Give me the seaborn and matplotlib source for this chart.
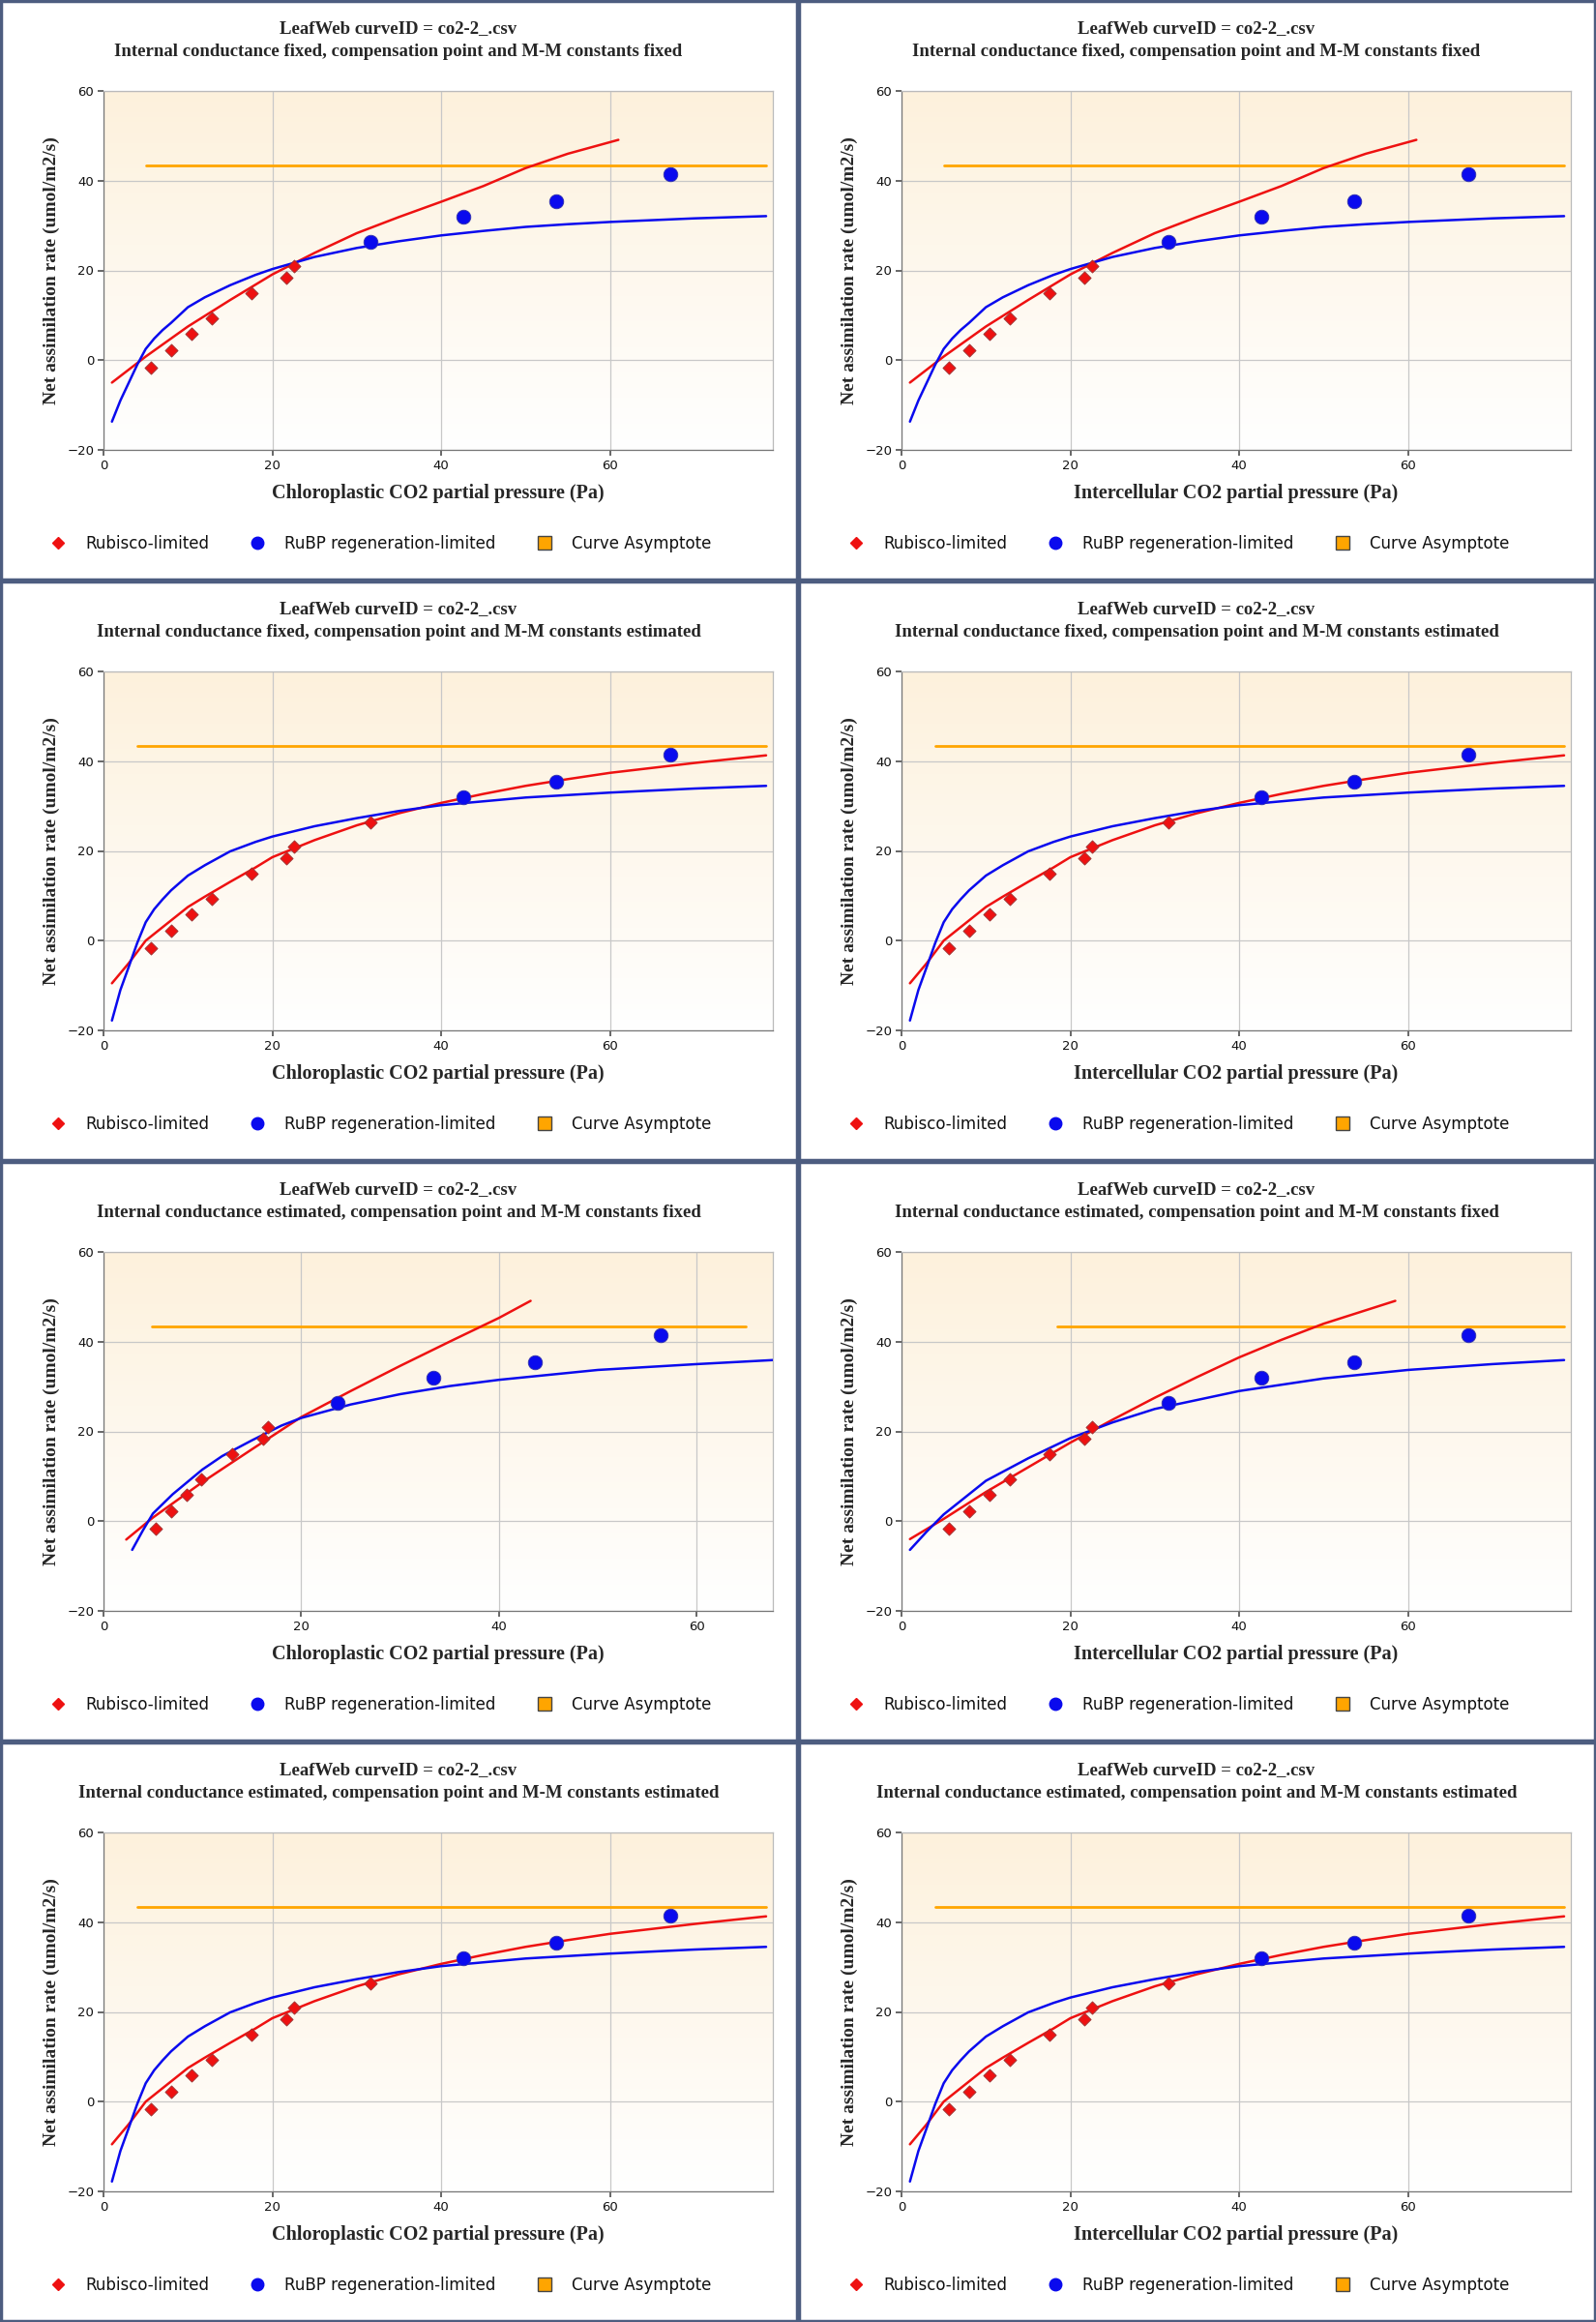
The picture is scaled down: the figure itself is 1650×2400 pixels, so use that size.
import numpy as np
import pandas as pd
import matplotlib
matplotlib.use("Agg")
import matplotlib.pyplot as plt
import seaborn as sns
from matplotlib.lines import Line2D
from matplotlib.patches import Rectangle
from matplotlib.colors import LinearSegmentedColormap

sns.set_theme(style="white")
plt.rcParams['font.family'] = ['DejaVu Sans']

# ---------------- data ----------------
rub_y = [-1.7, 2.3, 5.9, 9.4, 15.0, 18.3, 20.9, 26.4]
rubp_y = [26.4, 32.0, 35.5, 41.4]

ci_x = [5.6, 8.0, 10.4, 12.8, 17.5, 21.7, 22.6, 31.6, 42.6, 53.6, 67.1]
cc_est_x = [5.3, 6.8, 8.4, 9.9, 13.0, 16.1, 16.6, 23.7, 33.4, 43.6, 56.4]

# model A: gi fixed, constants fixed
A_red_x = [1, 5, 10, 15, 20, 25, 30, 35, 40, 45, 50, 55, 61]
A_red_y = [-5.0, 0.8, 7.5, 13.4, 19.1, 23.9, 28.3, 31.9, 35.3, 38.8, 42.8, 46.0, 49.1]
A_blue_x = [1, 2, 3, 4, 5, 6, 7, 8, 10, 12, 15, 18, 20, 25, 30, 35, 40, 45, 50, 55, 60, 70, 78.5]
A_blue_y = [-13.7, -9.0, -5.0, -1.0, 2.5, 4.8, 6.7, 8.3, 11.8, 14.0, 16.7, 19.0, 20.3, 23.0,
            25.0, 26.5, 27.8, 28.8, 29.7, 30.3, 30.8, 31.6, 32.1]
A_asym = (5.0, 78.5, 43.5)
A_nrub = 7

# model B: constants estimated
B_red_x = [1, 3, 5, 7, 10, 12, 15, 18, 20, 25, 30, 35, 40, 45, 50, 55, 60, 70, 78.5]
B_red_y = [-9.5, -5.0, 0.0, 3.0, 7.5, 9.8, 13.1, 16.3, 18.6, 22.4, 25.7, 28.4, 30.7, 32.7,
           34.5, 36.0, 37.4, 39.6, 41.3]
B_blue_x = [1, 2, 3, 4, 5, 6, 7, 8, 10, 12, 15, 18, 20, 25, 30, 35, 40, 50, 60, 70, 78.5]
B_blue_y = [-17.8, -11.0, -5.8, -0.5, 4.1, 7.0, 9.2, 11.2, 14.5, 16.8, 19.9, 22.0, 23.2, 25.5,
            27.3, 28.9, 30.2, 31.9, 33.0, 33.9, 34.5]
B_asym = (4.0, 78.5, 43.5)
B_nrub = 8

# model C: gi estimated, constants fixed (chloroplastic axis)
C_red_x = [2.3, 5, 10, 15, 20, 25, 30, 35, 40, 43.2]
C_red_y = [-4.1, 0.8, 8.7, 16.0, 23.2, 29.0, 34.6, 40.0, 45.3, 49.1]
C_blue_x = [2.9, 4, 5, 7, 10, 12, 15, 18, 20, 25, 30, 35, 40, 50, 60, 67.7]
C_blue_y = [-6.4, -2.0, 1.7, 6.0, 11.5, 14.5, 18.0, 21.3, 23.0, 26.0, 28.3, 30.1, 31.5, 33.7,
            35.0, 35.9]
C_asym = (4.9, 65.0, 43.5)
C_nrub = 7

# model C on the intercellular axis
Ci_red_x = [1, 5, 10, 15, 20, 25, 30, 35, 40, 45, 50, 58.5]
Ci_red_y = [-4.0, 0.5, 6.5, 12.0, 17.5, 22.6, 27.5, 32.1, 36.5, 40.4, 44.0, 49.1]
Ci_blue_x = [1, 3, 5, 10, 15, 20, 25, 30, 40, 50, 60, 70, 78.5]
Ci_blue_y = [-6.4, -2.3, 1.5, 9.0, 14.0, 18.5, 22.0, 25.0, 29.0, 31.8, 33.7, 35.0, 35.9]
Ci_asym = (18.5, 78.5, 43.5)

titles2 = [
    "Internal conductance fixed, compensation point and M-M constants fixed",
    "Internal conductance fixed, compensation point and M-M constants estimated",
    "Internal conductance estimated, compensation point and M-M constants fixed",
    "Internal conductance estimated, compensation point and M-M constants estimated",
]
xlabels = ["Chloroplastic CO2 partial pressure (Pa)", "Intercellular CO2 partial pressure (Pa)"]
legend_labels = ["Rubisco-limited", "RuBP regeneration-limited", "Curve Asymptote"]

RED = "#ee1111"
BLUE = "#0a0aee"
ORANGE = "#ffa500"

A = (ci_x, (A_red_x, A_red_y), (A_blue_x, A_blue_y), A_asym, A_nrub, 79.3)
B = (ci_x, (B_red_x, B_red_y), (B_blue_x, B_blue_y), B_asym, B_nrub, 79.3)
C = (cc_est_x, (C_red_x, C_red_y), (C_blue_x, C_blue_y), C_asym, C_nrub, 67.7)
Ci = (ci_x, (Ci_red_x, Ci_red_y), (Ci_blue_x, Ci_blue_y), Ci_asym, C_nrub, 79.3)
panels = [[A, A], [B, B], [C, Ci], [B, B]]

fig = plt.figure(figsize=(16.5, 24), dpi=100)
W, H = 1650, 2400

grad = np.linspace(0, 1, 256).reshape(-1, 1)
bgcmap = LinearSegmentedColormap.from_list("bg", ["#fdf1dc", "#ffffff"])

for r in range(4):
    for c in range(2):
        spec = panels[r][c]
        px0, py0 = c * 825, r * 600
        fig.patches.append(Rectangle((px0 / W + 0.0008, 1 - (py0 + 600) / H + 0.0006),
                                     823 / W, 598 / H, transform=fig.transFigure,
                                     fill=False, edgecolor="#4d5d80", linewidth=2.5))
        ax = fig.add_axes([(px0 + 107) / W, 1 - (py0 + 465) / H, 692 / W, 371 / H])
        ax.imshow(grad, extent=[0, 1, 0, 1], transform=ax.transAxes, cmap=bgcmap,
                  aspect="auto", zorder=0)
        xs, red, blue, asym, nrub, xmax = spec
        ax.set_xlim(0, xmax)
        ax.set_ylim(-20, 60)
        ax.set_xticks([0, 20, 40, 60])
        ax.set_yticks([-20, 0, 20, 40, 60])
        ax.grid(True, color="#c8c8c8", linewidth=0.9, zorder=1)
        ax.set_axisbelow(True)
        for s in ax.spines.values():
            s.set_color("#bbbbbb")
            s.set_linewidth(0.9)
        ax.spines["left"].set_color("#777777")
        ax.spines["bottom"].set_color("#777777")
        ax.tick_params(axis="both", labelsize=9.5, length=4, color="#555555",
                       left=True, bottom=True, pad=3, labelcolor="#111111")
        for t in ax.get_xticklabels() + ax.get_yticklabels():
            t.set_fontfamily("DejaVu Sans Condensed")

        sns.lineplot(x=[asym[0], asym[1]], y=[asym[2], asym[2]], ax=ax, color=ORANGE,
                     linewidth=2, zorder=3)
        sns.lineplot(x=red[0], y=red[1], ax=ax, color=RED, linewidth=1.8, zorder=4)
        sns.lineplot(x=blue[0], y=blue[1], ax=ax, color=BLUE, linewidth=1.8, zorder=4)
        sns.scatterplot(x=xs[:nrub], y=rub_y[:nrub], ax=ax, marker="D", color=RED, s=45,
                        edgecolor="#993333", linewidth=0.6, zorder=5)
        allY = rub_y[:7] + rubp_y
        sns.scatterplot(x=xs[nrub:], y=allY[nrub:], ax=ax, marker="o", color=BLUE, s=110,
                        edgecolor="#3333aa", linewidth=0.6, zorder=5)

        ax.set_xlabel(xlabels[c], fontsize=14.5, fontweight="bold",
                      family="Liberation Serif", labelpad=9)
        ax.set_ylabel("Net assimilation rate (umol/m2/s)", fontsize=14, fontweight="bold",
                      family="Liberation Serif", labelpad=5)

        cx = (px0 + 412) / W
        fig.text(cx, 1 - (py0 + 30) / H, "LeafWeb curveID = co2-2_.csv", ha="center",
                 va="center", fontsize=13.5, fontweight="bold", family="Liberation Serif")
        fig.text(cx, 1 - (py0 + 53) / H, titles2[r], ha="center", va="center",
                 fontsize=13.5, fontweight="bold", family="Liberation Serif")

        handles = [
            Line2D([], [], marker="D", color=RED, linestyle="none", markersize=6),
            Line2D([], [], marker="o", color=BLUE, linestyle="none", markersize=9),
            Line2D([], [], marker="s", color=ORANGE, markeredgecolor="#444444",
                   linestyle="none", markersize=10),
        ]
        fig.legend(handles, legend_labels, loc="center left", ncol=3, frameon=False,
                   bbox_to_anchor=((px0 + 28) / W, 1 - (py0 + 562) / H),
                   columnspacing=2.0, handletextpad=0.7, labelcolor="#111111",
                   prop={"family": "DejaVu Sans", "size": 12})

fig.savefig("out.png", dpi=100, facecolor="white")
